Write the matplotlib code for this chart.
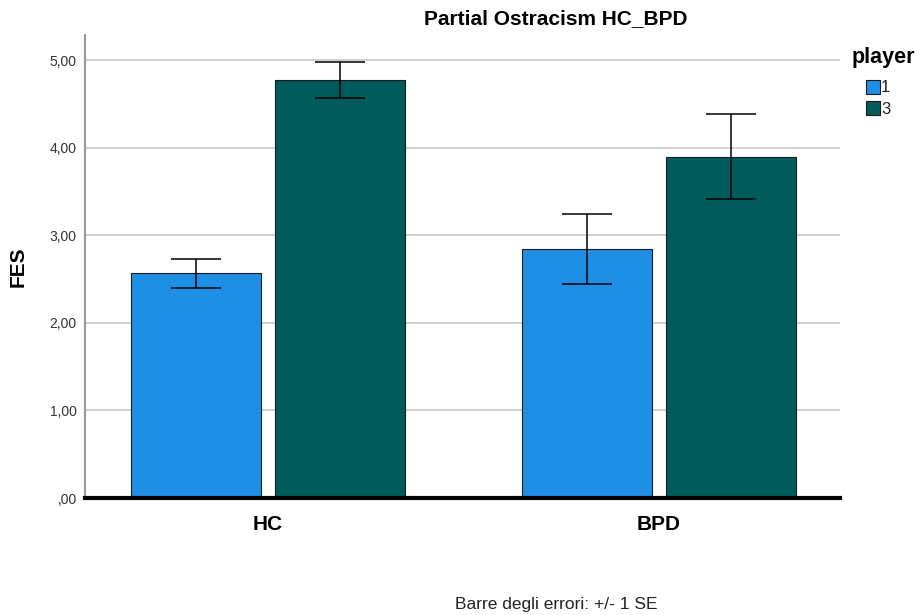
import matplotlib
matplotlib.use("Agg")
import matplotlib.pyplot as plt
import numpy as np
from matplotlib.patches import Rectangle

plt.rcParams['font.family'] = ['Liberation Sans', 'DejaVu Sans']

groups = ["HC", "BPD"]
players = ["1", "3"]
means_p1 = [2.57, 2.84]
means_p3 = [4.78, 3.90]
se_p1 = [0.165, 0.40]
se_p3 = [0.205, 0.485]
yticks = [0, 1, 2, 3, 4, 5]
ytick_labels = [",00", "1,00", "2,00", "3,00", "4,00", "5,00"]

col_p1 = "#1F8FE6"
col_p3 = "#005C5A"
W, H = 918, 615

fig = plt.figure(figsize=(W / 100, H / 100), dpi=100)
ax = fig.add_axes([85 / W, 1 - 498 / H, 755 / W, 463 / H])

x = np.arange(len(groups))
w = 0.332
off = (w + 0.036) / 2
ebar = dict(ecolor="black", elinewidth=1.1, capthick=1.1)
ax.bar(x - off, means_p1, w, color=col_p1, edgecolor="#1a1a1a", linewidth=0.8,
       yerr=se_p1, capsize=18, error_kw=ebar, zorder=3)
ax.bar(x + off, means_p3, w, color=col_p3, edgecolor="#1a1a1a", linewidth=0.8,
       yerr=se_p3, capsize=18, error_kw=ebar, zorder=3)

ax.set_xlim(-0.468, 1.463)
ax.set_ylim(0, 5.29)
ax.set_yticks(yticks)
ax.set_yticklabels(ytick_labels, fontsize=10, color="#333333")
ax.set_xticks(x)
ax.set_xticklabels(groups, fontsize=15, fontweight="bold")
ax.tick_params(axis="y", length=0, pad=6)
ax.tick_params(axis="x", length=0, pad=12)
ax.yaxis.grid(True, color="#c8c8c8", linewidth=1.2, zorder=0)
ax.set_axisbelow(True)

for s in ["top", "right"]:
    ax.spines[s].set_visible(False)
ax.spines["left"].set_color("#9a9a9a")
ax.spines["left"].set_linewidth(1.5)
ax.spines["bottom"].set_color("black")
ax.spines["bottom"].set_linewidth(3)
ax.spines["bottom"].set_zorder(5)

ax.set_ylabel("FES", fontsize=15, fontweight="bold", labelpad=16)

fig.text(556 / W, 1 - 19 / H, "Partial Ostracism HC_BPD", ha="center", va="center",
         fontsize=15, fontweight="bold")

# legend: title plus one swatch per player
fig.text(852 / W, 1 - 58 / H, "player", ha="left", va="center",
         fontsize=15.5, fontweight="bold")
for i, (lab, col) in enumerate(zip(players, [col_p1, col_p3])):
    top = 80 + i * 21
    fig.add_artist(Rectangle((866 / W, 1 - (top + 14) / H), 14 / W, 14 / H,
                             transform=fig.transFigure, facecolor=col,
                             edgecolor="#1a1a1a", linewidth=0.8))
    fig.text(881 / W, 1 - (top + 8) / H, lab, ha="left", va="center", fontsize=12,
             color="#222222")

fig.text(556 / W, 1 - 604 / H, "Barre degli errori: +/- 1 SE", ha="center",
         va="center", fontsize=12.5, color="#222222")

fig.savefig("out.png", dpi=100, facecolor="white")
